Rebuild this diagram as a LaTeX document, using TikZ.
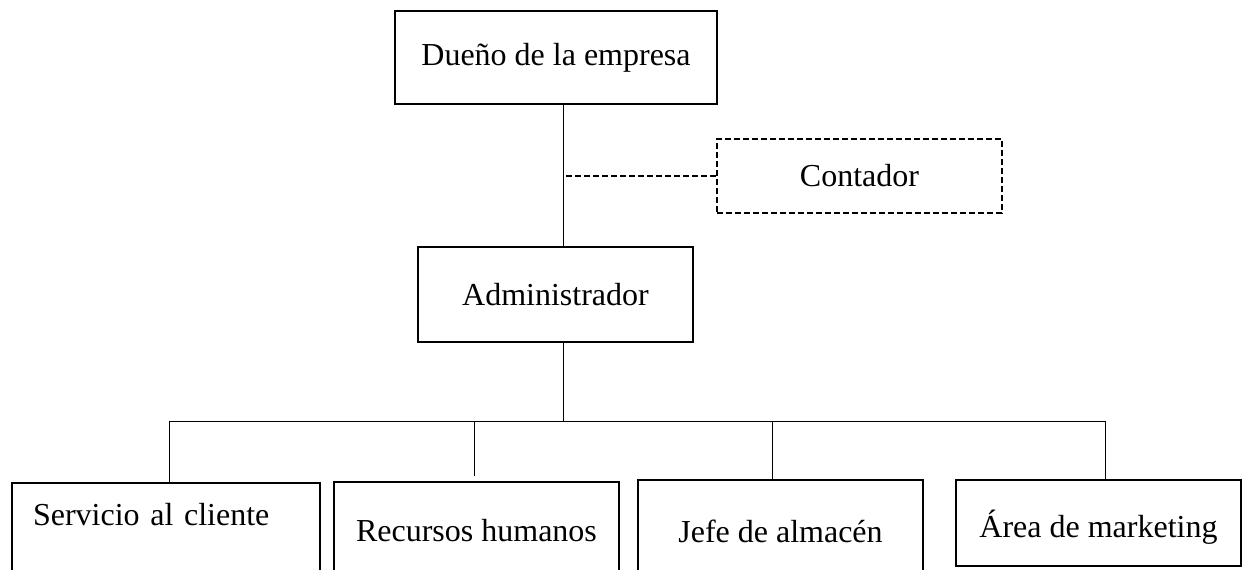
\documentclass[tikz,border=0pt]{standalone}
\usepackage{fontspec}
\setmainfont{Liberation Serif}
\begin{document}
\begin{tikzpicture}[x=0.5pt,y=-0.5pt,
    every node/.style={draw,rectangle,line width=1pt,inner sep=0pt,font=\fontsize{16}{19}\selectfont},
    puesto/.style={anchor=north west,minimum width=142.5pt},
    linea/.style={line width=0.5pt},
    punteada/.style={line width=0.7pt,dash pattern=on 3pt off 1.5pt}]
    \useasboundingbox (0,0) rectangle (1246,569);
    \clip (0,0) rectangle (1246,569);
    \node[minimum width=161pt,minimum height=46.5pt] (dueno) at (556,57.5) {Dueño de la empresa};
    \node[punteada,line width=1pt,minimum width=142.5pt,minimum height=37pt] (contador) at (859.5,176) {Contador};
    \node[minimum width=137.5pt,minimum height=47.5pt] (admin) at (555.5,294.5) {Administrador};
    \node[anchor=north west,text width=133pt,align=left,inner xsep=10.5pt,text height=21pt,text depth=40pt] (servicio) at (11,482) {Servicio al cliente};
    \node[puesto,text height=29.5pt,text depth=40pt] (recursos) at (333,481) {Recursos humanos};
    \node[puesto,text height=31pt,text depth=40pt] (jefe) at (637,479) {Jefe de almacén};
    \node[puesto,text height=28.5pt,text depth=14.5pt] (area) at (955,479) {Área de marketing};
    \coordinate (tronco) at (563,421);
    \coordinate (b1) at (169,421);
    \coordinate (b2) at (474,421);
    \coordinate (b3) at (772,421);
    \coordinate (b4) at (1105,421);
    \draw[linea] (dueno.south -| tronco) -- (admin.north -| tronco);
    \draw[punteada] (contador.west) -- (contador.west -| tronco);
    \draw[linea] (admin.south -| tronco) -- (tronco);
    \draw[linea] (b1) -- (b4);
    \draw[linea] (b1) -- (b1 |- servicio.north);
    \draw[linea,shorten >=2.5pt] (b2) -- (b2 |- recursos.north);
    \draw[linea] (b3) -- (b3 |- jefe.north);
    \draw[linea] (b4) -- (b4 |- area.north);
\end{tikzpicture}
\end{document}
